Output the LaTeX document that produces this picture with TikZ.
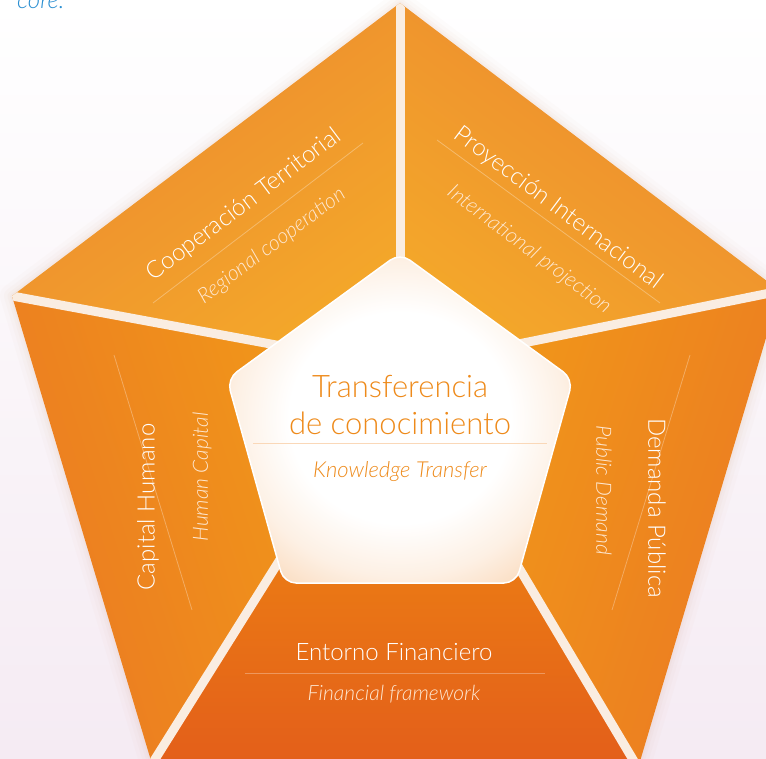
\documentclass[tikz,border=0pt]{standalone}
\usepackage{fontspec}
\newfontfamily\lt{Lato Light}
\newfontfamily\lti{Lato Light Italic}
\usetikzlibrary{calc}
\definecolor{cream}{HTML}{FAEDE1}
\definecolor{coopDark}{HTML}{EC8830}
\definecolor{coopLight}{HTML}{F4A82A}
\definecolor{sideDark}{HTML}{EB7A22}
\definecolor{sideLight}{HTML}{F29C18}
\definecolor{botLight}{HTML}{F2940F}
\definecolor{botDark}{HTML}{E35E1A}
\definecolor{peach}{HTML}{FAD8B8}
\definecolor{peachLight}{HTML}{FDF0E4}
\definecolor{ctext}{HTML}{EE8A1A}
\definecolor{subtxt}{HTML}{FEE8D2}
\definecolor{bgpink}{HTML}{F5EBF3}
\definecolor{blueT}{HTML}{2A8FD2}
\definecolor{shadowc}{HTML}{D9A88C}
\pgfdeclareradialshading{centreshade}{\pgfpoint{0bp}{0bp}}{%
  color(0bp)=(white); color(16bp)=(white); color(24bp)=(peachLight);
  color(32bp)=(peach); color(50bp)=(peach)}
\tikzset{
  ttl/.style={text=white, font=\lt\fontsize{24}{28}\selectfont, inner sep=0pt},
  subt/.style={text=subtxt, font=\lti\fontsize{21}{25}\selectfont, inner sep=0pt},
  ctitle/.style={text=ctext, font=\lt\fontsize{31}{36}\selectfont, inner sep=0pt},
  csub/.style={text=ctext, font=\lti\fontsize{22}{26}\selectfont, inner sep=0pt},
  sepline/.style={draw=white, draw opacity=0.3, line width=0.8pt},
  gap/.style={draw=cream, line width=9pt},
}
\begin{document}
\begin{tikzpicture}[x=1pt,y=-1pt]
\useasboundingbox (0,0) rectangle (766,759);
\begin{scope}
\clip (0,0) rectangle (766,759);
\shade[top color=white, middle color=white!70!bgpink, bottom color=bgpink] (0,0) rectangle (766,759);
% outer vertices and hub
\coordinate (T) at (400,3);
\coordinate (R) at (780,291);
\coordinate (BR) at (638,768);
\coordinate (BL) at (152,764);
\coordinate (L) at (12,296);
\coordinate (H) at (400,368);
% inner vertices
\coordinate (IT) at (400,253);
\coordinate (IR) at (573,379);
\coordinate (IBR) at (516,583);
\coordinate (IBL) at (284,583);
\coordinate (IL) at (227,379);
% soft shadow
\foreach \w/\o in {24/0.03,16/0.04,9/0.05,4/0.06}
  \draw[line width=\w pt, draw=shadowc, opacity=\o, line join=round] (T)--(R)--(BR)--(BL)--(L)--cycle;
% segments
\shade[top color=coopDark, bottom color=coopLight, shading angle=36] (T)--(L)--(H)--cycle;
\shade[top color=coopDark, bottom color=coopLight, shading angle=-36] (T)--(R)--(H)--cycle;
\shade[top color=sideDark, bottom color=sideLight, shading angle=108] (L)--(BL)--(H)--cycle;
\shade[top color=sideDark, bottom color=sideLight, shading angle=-108] (R)--(BR)--(H)--cycle;
\shade[top color=botLight, bottom color=botDark] (BL)--(BR)--(H)--cycle;
% gaps
\begin{scope}
\clip (T)--(R)--(BR)--(BL)--(L)--cycle;
\foreach \p in {T,R,BR,BL,L} \draw[gap] (H) -- (\p);
\end{scope}
% separator lines in segments
\draw[sepline] (153,303) -- (363,143);
\draw[sepline] (437,140) -- (660,303);
\draw[sepline] (114,355) -- (192,610);
\draw[sepline] (690,355) -- (612,610);
\draw[sepline] (245,673) -- (545,673);
% centre pentagon
\path[draw=white, line width=1.5pt, shading=centreshade, rounded corners=12pt]
  (IT)--(IR)--(IBR)--(IBL)--(IL)--cycle;
\draw[draw=peach, line width=0.8pt] (253,443) -- (547,443);
% texts
\node[ttl, rotate=36.9] (coopT) at (244,205) {Cooperación Territorial};
\node[subt, rotate=36.9] (coopS) at (272,246) {Regional cooperation};
\node[ttl, rotate=-36.9] (proyT) at (558,208) {Proyección Internacional};
\node[subt, rotate=-36.9] (proyS) at (529,250) {International projection};
\node[ttl, rotate=90] (capT) at (148,507) {Capital Humano};
\node[subt, rotate=90] (capS) at (202,477) {Human Capital};
\node[ttl, rotate=-90] (demT) at (657,508) {Demanda Pública};
\node[subt, rotate=-90] (demS) at (604,490) {Public Demand};
\node[ttl] (entT) at (394,652) {Entorno Financiero};
\node[subt] (entS) at (394,694) {Financial framework};
\node[ctitle] (c1) at (400,387) {Transferencia};
\node[ctitle] (c2) at (400,423) {de conocimiento};
\node[csub] (cS) at (400,472) {Knowledge Transfer};
\node[text=blueT, font=\lti\fontsize{24}{28}\selectfont, anchor=base west, inner sep=0pt] (core) at (17,9) {core.};
\end{scope}
\end{tikzpicture}
\end{document}
